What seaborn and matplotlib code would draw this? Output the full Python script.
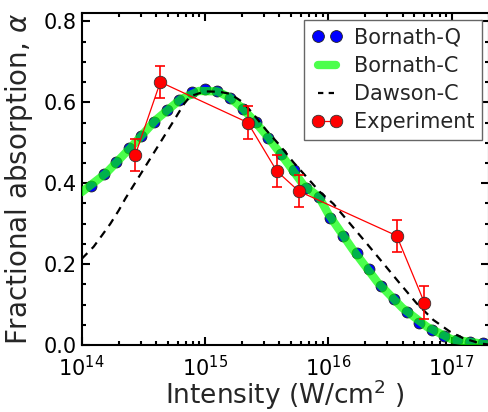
import matplotlib
matplotlib.use("Agg")
import matplotlib.pyplot as plt
from matplotlib.lines import Line2D
from matplotlib.ticker import MultipleLocator
import seaborn as sns
import pandas as pd

# Bornath quantum calculation (points)
bq_intensity = [1.19e14, 1.51e14, 1.91e14, 2.40e14, 3.04e14, 3.88e14, 4.92e14, 6.19e14,
                7.85e14, 9.91e14, 1.26e15, 1.60e15, 2.02e15, 2.58e15, 3.26e15, 4.13e15,
                5.24e15, 6.59e15, 8.41e15, 1.04e16, 1.32e16, 1.70e16, 2.14e16, 2.69e16,
                3.41e16, 4.33e16, 5.47e16, 6.93e16, 8.73e16, 1.11e17, 1.41e17, 1.79e17]
bq_alpha = [0.394, 0.422, 0.453, 0.486, 0.517, 0.551, 0.580, 0.606,
            0.625, 0.633, 0.628, 0.610, 0.584, 0.551, 0.512, 0.471,
            0.433, 0.389, 0.366, 0.315, 0.270, 0.228, 0.187, 0.146,
            0.113, 0.082, 0.055, 0.037, 0.022, 0.012, 0.007, 0.004]

# Bornath classical calculation (thick line)
bc_intensity = [1.0e14, 1.58e14, 2.51e14, 3.98e14, 6.31e14, 8.9e14, 1.26e15, 1.58e15,
                2.0e15, 2.51e15, 3.16e15, 3.98e15, 5.01e15, 6.31e15, 8.4e15, 1.0e16,
                1.58e16, 2.51e16, 3.98e16, 6.31e16, 1.0e17, 2.0e17]
bc_alpha = [0.378, 0.425, 0.489, 0.556, 0.607, 0.628, 0.627, 0.612,
            0.586, 0.554, 0.518, 0.478, 0.437, 0.395, 0.366, 0.324,
            0.236, 0.155, 0.092, 0.045, 0.014, 0.001]

# Dawson classical model (dashed)
dc_intensity = [1.0e14, 1.25e14, 1.46e14, 1.71e14, 2.0e14, 2.26e14, 2.82e14, 3.55e14,
                4.47e14, 5.62e14, 6.76e14, 7.6e14, 1.0e15, 1.3e15, 1.6e15, 2.03e15,
                2.45e15, 3.16e15, 4.06e15, 5.2e15, 6.68e15, 8.57e15, 1.1e16, 1.5e16,
                2.05e16, 2.79e16, 3.81e16, 5.21e16, 7.11e16, 9.7e16, 1.24e17, 1.7e17, 2.0e17]
dc_alpha = [0.213, 0.243, 0.271, 0.300, 0.333, 0.362, 0.409, 0.458,
            0.507, 0.556, 0.596, 0.615, 0.627, 0.626, 0.621, 0.600,
            0.572, 0.530, 0.493, 0.452, 0.415, 0.378, 0.349, 0.300,
            0.251, 0.202, 0.152, 0.103, 0.062, 0.033, 0.017, 0.004, 0.001]

# Measured absorption with error bars
exp_intensity = [2.72e14, 4.34e14, 2.22e15, 3.82e15, 5.78e15, 3.59e16, 6.01e16]
exp_alpha = [0.47, 0.65, 0.55, 0.43, 0.38, 0.27, 0.105]
exp_err = [0.04, 0.04, 0.04, 0.04, 0.04, 0.04, 0.04]

labels = ["Bornath-Q", "Bornath-C", "Dawson-C", "Experiment"]

sns.set_style("ticks")
plt.rcParams["font.family"] = ["DejaVu Sans"]
plt.rcParams["mathtext.fontset"] = "dejavusans"

BLUE = "#0000ff"
GREEN = "#00ff00"
RED = "#ff0000"
DASH = (3.6, 2.8)

fig = plt.figure(figsize=(4.89, 4.12), dpi=100)
ax = fig.add_axes([81.7 / 489, 67 / 412, (488.7 - 81.7) / 489, (345 - 13.3) / 412])

bq = pd.DataFrame({"I": bq_intensity, "a": bq_alpha})
bc = pd.DataFrame({"I": bc_intensity, "a": bc_alpha})
dc = pd.DataFrame({"I": dc_intensity, "a": dc_alpha})
ex = pd.DataFrame({"I": exp_intensity, "a": exp_alpha, "e": exp_err})

sns.scatterplot(data=bq, x="I", y="a", ax=ax, color=BLUE, s=62,
                edgecolor="#222222", linewidth=0.6, zorder=2, legend=False)
sns.lineplot(data=bc, x="I", y="a", ax=ax, color=GREEN, alpha=0.7, lw=6,
             zorder=3, sort=False, legend=False)
sns.lineplot(data=dc, x="I", y="a", ax=ax, color="black", lw=1.6,
             zorder=4, sort=False, legend=False)
ax.lines[-1].set_dashes(DASH)
ax.errorbar(ex["I"], ex["a"], yerr=ex["e"], fmt="none", ecolor=RED,
            elinewidth=1.2, capsize=3.5, capthick=1.2, zorder=5)
sns.lineplot(data=ex, x="I", y="a", ax=ax, color=RED, lw=0.9, marker="o",
             markersize=9, markerfacecolor=RED, markeredgecolor="#333333",
             markeredgewidth=0.6, zorder=6, sort=False, legend=False)

ax.set_xscale("log")
ax.set_xlim(1e14, 2e17)
ax.set_ylim(0, 0.82)
ax.yaxis.set_major_locator(MultipleLocator(0.2))
ax.yaxis.set_minor_locator(MultipleLocator(0.05))

for s in ax.spines.values():
    s.set_linewidth(1.5)
    s.set_color("black")
ax.tick_params(which="both", direction="in", top=True, right=True,
               width=1.5, colors="black", labelsize=15)
ax.tick_params(which="major", length=6)
ax.tick_params(which="minor", length=3)
ax.tick_params(axis="x", which="both", pad=7)

ax.set_xlabel("Intensity (W/cm$^2$ )", fontsize=19, labelpad=-1.5)
ax.set_ylabel("Fractional absorption, $\\alpha$", fontsize=20, labelpad=6)

handles = [
    Line2D([], [], ls="none", marker="o", markersize=8.5, color=BLUE,
           markeredgecolor="#222222", markeredgewidth=0.6),
    Line2D([], [], color=GREEN, alpha=0.7, lw=6),
    Line2D([], [], color="black", lw=1.6, dashes=(2.4, 2.4)),
    Line2D([], [], color=RED, lw=0.9, marker="o", markersize=9,
           markerfacecolor=RED, markeredgecolor="#333333", markeredgewidth=0.6),
]
leg = ax.legend(handles, labels, loc="upper right", fontsize=15, numpoints=2,
                fancybox=False, framealpha=1, edgecolor="#666666",
                borderaxespad=0.33, handlelength=1.5, handletextpad=0.55,
                labelspacing=0.4, borderpad=0.35)
leg.get_frame().set_linewidth(1.0)

fig.savefig("out.png", dpi=100)
